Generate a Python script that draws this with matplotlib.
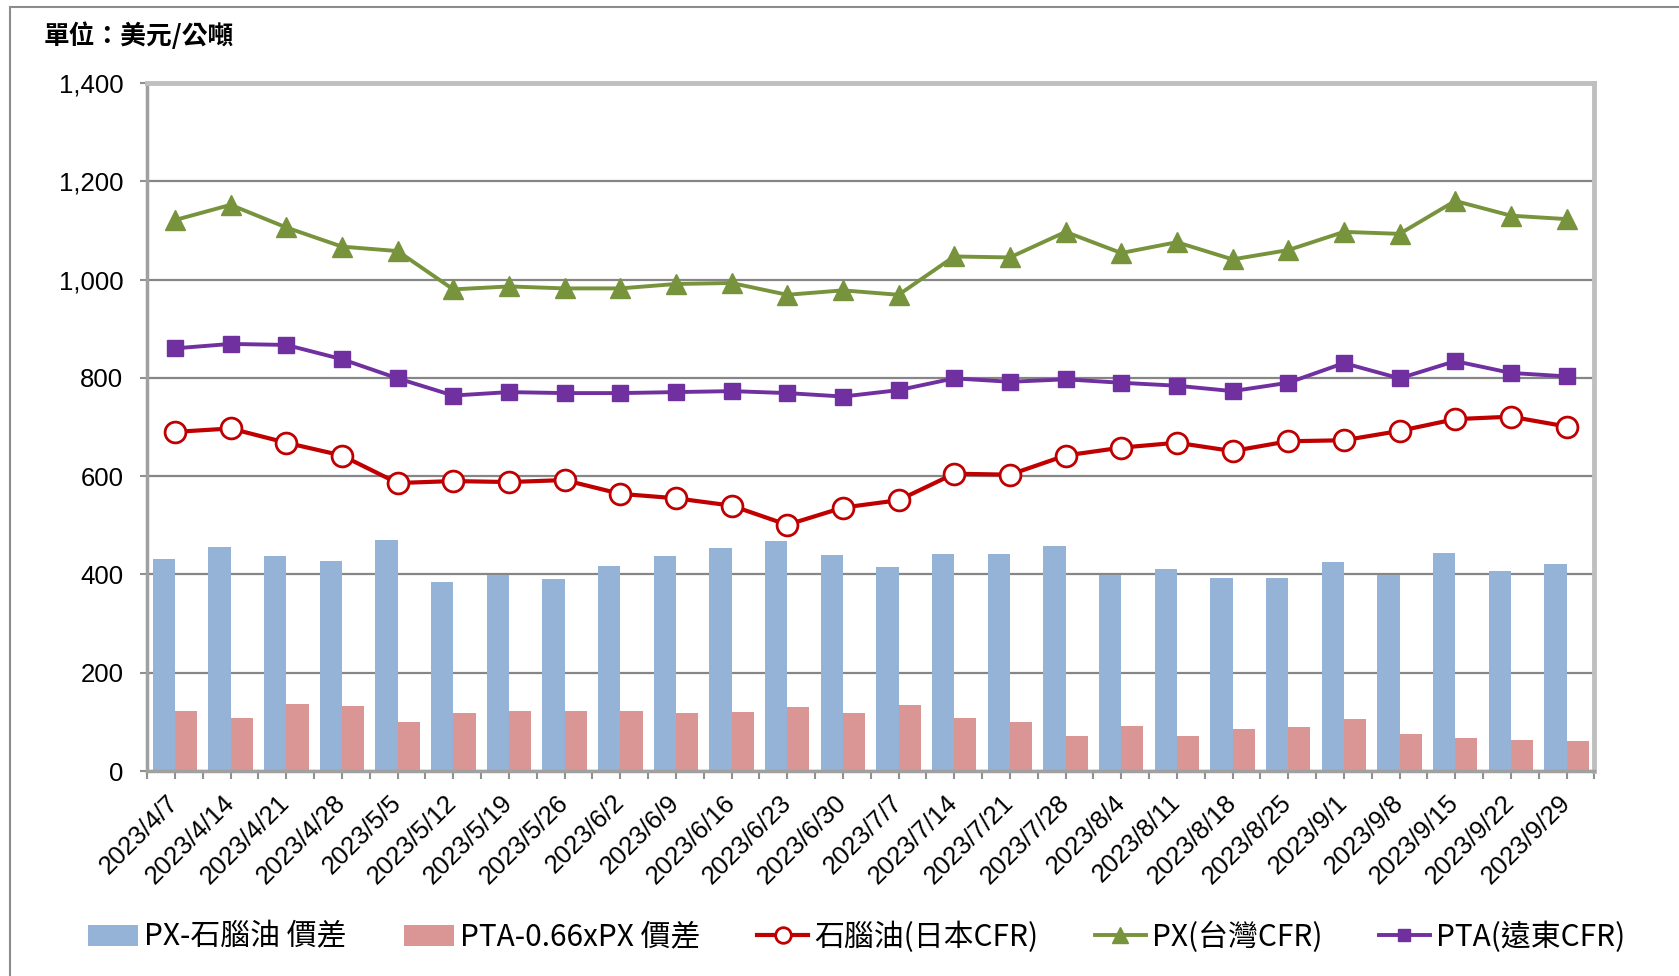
import matplotlib
matplotlib.use("Agg")
import matplotlib.pyplot as plt
from matplotlib.patches import Rectangle
from matplotlib.ticker import FuncFormatter, MultipleLocator
import numpy as np

plt.rcParams['font.family'] = ['Liberation Sans', 'Noto Sans CJK TC', 'DejaVu Sans']

# 週別日期
fechas = ["2023/4/7", "2023/4/14", "2023/4/21", "2023/4/28", "2023/5/5", "2023/5/12",
          "2023/5/19", "2023/5/26", "2023/6/2", "2023/6/9", "2023/6/16", "2023/6/23",
          "2023/6/30", "2023/7/7", "2023/7/14", "2023/7/21", "2023/7/28", "2023/8/4",
          "2023/8/11", "2023/8/18", "2023/8/25", "2023/9/1", "2023/9/8", "2023/9/15",
          "2023/9/22", "2023/9/29"]

# 價差 (柱)
px_nafta = [431, 455, 438, 427, 470, 385, 398, 390, 418, 438, 453, 468, 440,
            416, 442, 442, 457, 398, 411, 392, 392, 425, 398, 444, 407, 422]
pta_px = [122, 107, 137, 133, 100, 118, 122, 122, 122, 118, 120, 131, 118,
          135, 107, 100, 72, 91, 72, 85, 89, 105, 76, 67, 63, 61]

# 價格 (線)
nafta = [690, 697, 668, 642, 586, 590, 588, 592, 564, 555, 540, 501, 536,
         551, 605, 603, 642, 658, 668, 651, 671, 673, 692, 716, 721, 701]
px = [1121, 1152, 1106, 1067, 1058, 980, 986, 982, 982, 991, 993, 969, 978,
      969, 1047, 1045, 1097, 1054, 1076, 1041, 1060, 1097, 1093, 1160, 1130, 1123]
pta = [860, 869, 867, 838, 799, 764, 771, 769, 769, 771, 773, 769, 762,
       775, 799, 792, 797, 790, 784, 773, 790, 830, 799, 834, 810, 803]

nombres = ["PX-石腦油 價差", "PTA-0.66xPX 價差", "石腦油(日本CFR)", "PX(台灣CFR)", "PTA(遠東CFR)"]

fig = plt.figure(figsize=(16.79, 9.76), dpi=100)
ax = fig.add_axes([0.0876, 0.210, 0.862, 0.705])

x = np.arange(len(fechas))
w = 0.4
b1 = ax.bar(x - w / 2, px_nafta, w, color='#95B3D7', label=nombres[0], zorder=2)
b2 = ax.bar(x + w / 2, pta_px, w, color='#D99694', label=nombres[1], zorder=2)

l1, = ax.plot(x, nafta, color='#C00000', lw=3, marker='o', ms=15, mfc='white',
              mec='#C00000', mew=2, label=nombres[2], zorder=4)
l2, = ax.plot(x, px, color='#77933C', lw=2.8, marker='^', ms=15, mfc='#77933C',
              mec='#77933C', label=nombres[3], zorder=4)
l3, = ax.plot(x, pta, color='#7030A0', lw=2.8, marker='s', ms=11, mfc='#7030A0',
              mec='#7030A0', label=nombres[4], zorder=4)

ax.set_xlim(-0.5, len(fechas) - 0.5)
ax.set_ylim(0, 1400)
ax.yaxis.set_major_locator(MultipleLocator(200))
ax.yaxis.set_major_formatter(FuncFormatter(lambda v, p: f"{int(v):,}"))
ax.grid(axis='y', color='#868686', lw=1.6, zorder=1)

ax.set_xticks(x)
ax.set_xticklabels(fechas, rotation=45, ha='right', va='center', rotation_mode='anchor')
ax.set_xticks(np.arange(len(fechas) + 1) - 0.5, minor=True)
ax.tick_params(axis='x', which='both', direction='out', length=6, width=1.5,
               color='#909090', labelsize=18.5, pad=14)
ax.tick_params(axis='y', direction='out', length=5, width=1.5, color='#909090',
               labelsize=18.5, pad=12)

for lado in ['left', 'bottom']:
    ax.spines[lado].set_color('#a0a0a0')
    ax.spines[lado].set_linewidth(2.5)
for lado in ['top', 'right']:
    ax.spines[lado].set_color('#bfbfbf')
    ax.spines[lado].set_linewidth(3.5)

# título de unidad
fig.text(0.026, 0.963, "單位：美元/公噸", fontsize=18.5, fontweight='bold',
         family=['Noto Sans CJK TC', 'DejaVu Sans'], va='center', ha='left')

# leyenda
fig.legend(handles=[b1, b2, l1, l2, l3], loc='center', bbox_to_anchor=(0.510, 0.040),
           ncol=5, frameon=False, handlelength=1.7, handletextpad=0.2,
           columnspacing=1.9,
           prop={'family': ['Noto Sans CJK TC', 'DejaVu Sans'], 'size': 21.5, 'weight': 'medium'},
           markerscale=0.75)

# marco exterior
fig.patches.append(Rectangle((10 / 1679, -0.05), 1.1, 0.05 + 1 - 7 / 976,
                             transform=fig.transFigure, fill=False,
                             edgecolor='#8c8c8c', lw=1.5))

fig.savefig("out.png", dpi=100)
